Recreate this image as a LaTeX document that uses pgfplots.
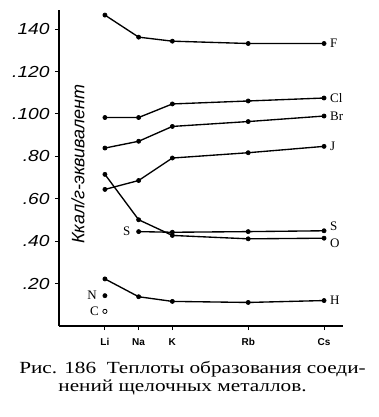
\documentclass[border=0pt]{standalone}
\usepackage{fontspec}
\setmainfont{Liberation Serif}
\setsansfont{Liberation Sans}
\usepackage{pgfplots}
\pgfplotsset{compat=1.18}
\pgfplotsset{myline/.style={black, solid, line width=1.35pt, mark=*, mark size=2.1pt, mark options={solid, fill=black, line width=0.6pt}}}
\begin{document}
\begin{tikzpicture}[x=1pt,y=1pt]
\begin{axis}[
  name=ax, at={(0,0)}, anchor=south west,
  width=284pt, height=316pt, scale only axis,
  xmin=-7.9, xmax=59.5, ymin=0, ymax=149,
  axis lines=left, axis line style={-, line width=1.2pt},
  tick align=outside, major tick length=4pt,
  tick style={line width=0.9pt, black},
  xtick={3,11,19,37,55}, xticklabels={Li,Na,K,Rb,Cs},
  xticklabel style={font=\sffamily\bfseries\fontsize{10}{10}\selectfont, yshift=-5pt},
  ytick={20,40,60,80,100,120,140},
  yticklabels={.20,.40,.60,.80,.100,.120,140},
  yticklabel style={font=\sffamily\itshape\fontsize{16}{16}\selectfont, xscale=1.2, xshift=-1pt},
  clip=false,
]
% F
\addplot[myline] coordinates {(3,146.6) (11,136.2) (19,134.3) (37,133.2) (55,133.2)};
% Cl
\addplot[myline] coordinates {(3,98.3) (11,98.3) (19,104.7) (37,106.1) (55,107.5)};
% Br
\addplot[myline] coordinates {(3,83.9) (11,87.1) (19,94.1) (37,96.4) (55,99.0)};
% J
\addplot[myline] coordinates {(3,64.4) (11,68.6) (19,79.2) (37,81.7) (55,84.7)};
% O
\addplot[myline] coordinates {(3,71.5) (11,50.1) (19,42.7) (37,41.1) (55,41.4)};
% S
\addplot[myline] coordinates {(11,44.5) (19,44.2) (37,44.5) (55,44.9)};
% H
\addplot[myline] coordinates {(3,22.2) (11,13.8) (19,11.6) (37,11.1) (55,12.0)};
% N
\addplot[myline, only marks] coordinates {(3,14.3)};
% C
\addplot[myline, only marks, mark options={fill=white, line width=0.8pt}] coordinates {(3,6.9)};
\begin{scope}[every node/.style={font=\fontsize{13}{13}\selectfont, inner sep=0pt}]
\node[anchor=west] at ([xshift=6pt]axis cs:55,133.2) {F};
\node[anchor=west] at ([xshift=6pt]axis cs:55,107.5) {Cl};
\node[anchor=west] at ([xshift=6pt]axis cs:55,99.0) {Br};
\node[anchor=west] at ([xshift=6pt]axis cs:55,84.7) {J};
\node[anchor=west] at ([xshift=6pt, yshift=5pt]axis cs:55,44.9) {S};
\node[anchor=west] at ([xshift=6pt, yshift=-5pt]axis cs:55,41.4) {O};
\node[anchor=west] at ([xshift=6pt]axis cs:55,12.0) {H};
\node[anchor=east] at ([xshift=-8pt]axis cs:11,44.5) {S};
\node[anchor=east] at ([xshift=-8pt]axis cs:3,14.3) {N};
\node[anchor=east] at ([xshift=-6pt]axis cs:3,6.9) {C};
\end{scope}
\end{axis}
\node[rotate=90, font=\sffamily\itshape\fontsize{18}{18}\selectfont] at (19,162) {Ккал/г-эквивалент};
\node[anchor=base, font=\fontsize{17}{18}\selectfont, inner sep=0pt] at (133.5,-47) {\scalebox{1.25}[1]{Рис. 186\ \ Теплоты образования соеди-}};
\node[anchor=base, font=\fontsize{17}{18}\selectfont, inner sep=0pt] at (123.5,-65) {\scalebox{1.25}[1]{нений щелочных металлов.}};
\pgfresetboundingbox
\path[use as bounding box] (-59,-91) rectangle (320,326);
\end{tikzpicture}
\end{document}
